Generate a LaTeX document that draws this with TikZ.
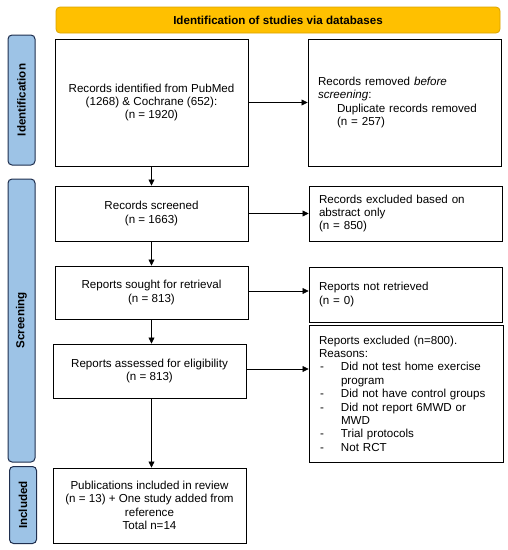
\documentclass[tikz,border=0pt]{standalone}
\usepackage{fontspec}
\setmainfont{Liberation Sans}
\usetikzlibrary{arrows.meta}
\definecolor{hdrfill}{HTML}{FFC000}
\definecolor{hdrdraw}{HTML}{D9A300}
\definecolor{sidefill}{HTML}{9DC3E6}
\definecolor{sidedraw}{HTML}{1F2F4F}
\tikzset{
  txt/.style={font=\fontsize{11.6}{13.4}\selectfont},
  box/.style={txt, draw=black, line width=0.9pt, fill=white, inner sep=0pt, align=center},
  rbox/.style={box, align=left, text width=#1},
  hdr/.style={draw=hdrdraw, fill=hdrfill, line width=0.8pt, rounded corners=4pt, inner sep=0pt,
     font=\fontsize{11.6}{13.4}\selectfont\bfseries},
  side/.style={draw=sidedraw, fill=sidefill, line width=1pt, rounded corners=4pt, inner sep=0pt,
     rotate=90, font=\fontsize{11.6}{13.4}\selectfont\bfseries},
  arr/.style={line width=0.7pt, -{Triangle[length=6pt,width=6pt]}}
}
\begin{document}
\begin{tikzpicture}[x=1pt,y=-1pt]
\useasboundingbox (0,0) rectangle (508,550);
% header
\node[hdr, minimum width=444pt, minimum height=26pt] (hdr) at (278,20) {Identification of studies via databases};
% side labels
\node[side, minimum width=130pt, minimum height=27pt] (sid) at (21.5,100) {Identification};
\node[side, minimum width=283pt, minimum height=27pt] (ssc) at (21.5,320.5) {Screening};
\node[side, minimum width=77pt, minimum height=27pt] (sin) at (23,505) {Included};
% left column
\node[box, minimum width=193pt, minimum height=127pt] (b1) at (151.5,102.5)
  {Records identified from PubMed\\(1268) \& Cochrane (652):\\(n = 1920)};
\node[box, minimum width=193pt, minimum height=55pt] (b2) at (151.5,213.5)
  {Records screened\\(n = 1663)};
\node[box, minimum width=193pt, minimum height=53pt] (b3) at (151.5,292.5)
  {Reports sought for retrieval\\(n = 813)};
\node[box, minimum width=193pt, minimum height=54pt] (b4) at (149.5,371)
  {Reports assessed for eligibility\\(n = 813)};
\node[box, minimum width=193pt, minimum height=75pt] (b5) at (149.5,505.5)
  {Publications included in review\\(n = 13) + One study added from\\reference\\Total n=14};
% right column
\node[rbox=173pt, minimum width=193pt, minimum height=127pt, inner xsep=10pt] (r1) at (404.5,102.5)
  {Records removed \textit{before}\\\textit{screening}:\\\hspace*{19pt}Duplicate records removed\\\hspace*{19pt}(n = 257)};
\node[rbox=173pt, minimum width=193pt, minimum height=55pt, inner xsep=10pt] (r2) at (405.5,213.5)
  {Records excluded based on\\abstract only\\(n = 850)};
\node[rbox=173pt, minimum width=193pt, minimum height=55pt, inner xsep=10pt] (r3) at (405.5,294.5)
  {Reports not retrieved\\(n = 0)};
\node[rbox=174pt, minimum width=194pt, minimum height=137pt, inner xsep=10pt] (r4) at (406,393.5)
  {Reports excluded (n=800).\\Reasons:\\
   \makebox[22pt][l]{\hspace*{1pt}-}Did not test home exercise\\
   \hspace*{22pt}program\\
   \makebox[22pt][l]{\hspace*{1pt}-}Did not have control groups\\
   \makebox[22pt][l]{\hspace*{1pt}-}Did not report 6MWD or\\
   \hspace*{22pt}MWD\\
   \makebox[22pt][l]{\hspace*{1pt}-}Trial protocols\\
   \makebox[22pt][l]{\hspace*{1pt}-}Not RCT};
% connectors
\draw[arr] (b1.south) -- (b1.south |- b2.north);
\draw[arr] (b2.south) -- (b2.south |- b3.north);
\draw[arr] (b3.south) -- (b3.south |- b4.north);
\draw[arr] (b3.south |- b4.south) -- (b3.south |- b5.north);
\draw[arr] (b1.east) -- (b1.east -| r1.west);
\draw[arr] (b2.east) -- (b2.east -| r2.west);
\draw[arr] ([yshift=1.5pt]b3.east) -- ([yshift=1.5pt]b3.east -| r3.west);
\draw[arr] ([yshift=2pt]b4.east) -- ([yshift=2pt]b4.east -| r4.west);
\end{tikzpicture}
\end{document}
